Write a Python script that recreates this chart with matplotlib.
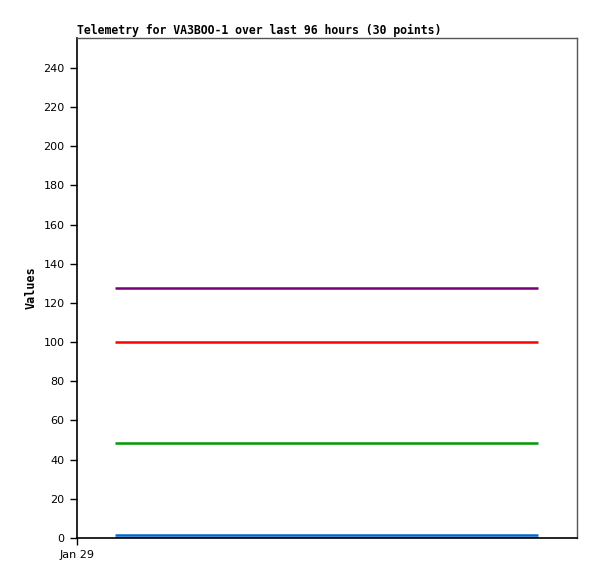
import matplotlib
matplotlib.use("Agg")
import matplotlib.pyplot as plt

# hours since Jan 29 00:00
hours = [7.6, 92.2]
series = {
    "purple": [127.8, 127.8],
    "red": [100.2, 100.2],
    "green": [48.3, 48.3],
    "blue": [1.6, 1.6],
    "black": [0.0, 0.0],
}
colors = {"purple": "#770077", "red": "#ff0000", "green": "#009900",
          "blue": "#0066cc", "black": "#000000"}
xticks = [0]
xticklabels = ["Jan 29"]
yticks = list(range(0, 241, 20))

fig = plt.figure(figsize=(5.97, 5.79), dpi=100)
ax = fig.add_axes([77 / 597, 41 / 579, 500 / 597, 500 / 579])

for name, vals in series.items():
    ax.plot(hours, vals, color=colors[name], lw=1.8, solid_capstyle="butt", zorder=3)

ax.set_xlim(0, 100)
ax.set_ylim(0, 255.3)
ax.set_yticks(yticks)
ax.set_xticks(xticks)
ax.set_xticklabels(xticklabels)
ax.tick_params(direction="out", length=5, width=1, labelsize=8, colors="black", pad=4)
for s in ["left", "bottom"]:
    ax.spines[s].set_color("black")
    ax.spines[s].set_linewidth(1.2)
for s in ["top", "right"]:
    ax.spines[s].set_color("#555555")
    ax.spines[s].set_linewidth(1.0)

ax.set_ylabel("Values", family="DejaVu Sans Mono", fontweight="bold", fontsize=8.5, labelpad=4)
ax.set_title("Telemetry for VA3BOO-1 over last 96 hours (30 points)", loc="left",
             family="DejaVu Sans Mono", fontweight="bold", fontsize=8.3, pad=3)

fig.savefig("out.png", dpi=100)
